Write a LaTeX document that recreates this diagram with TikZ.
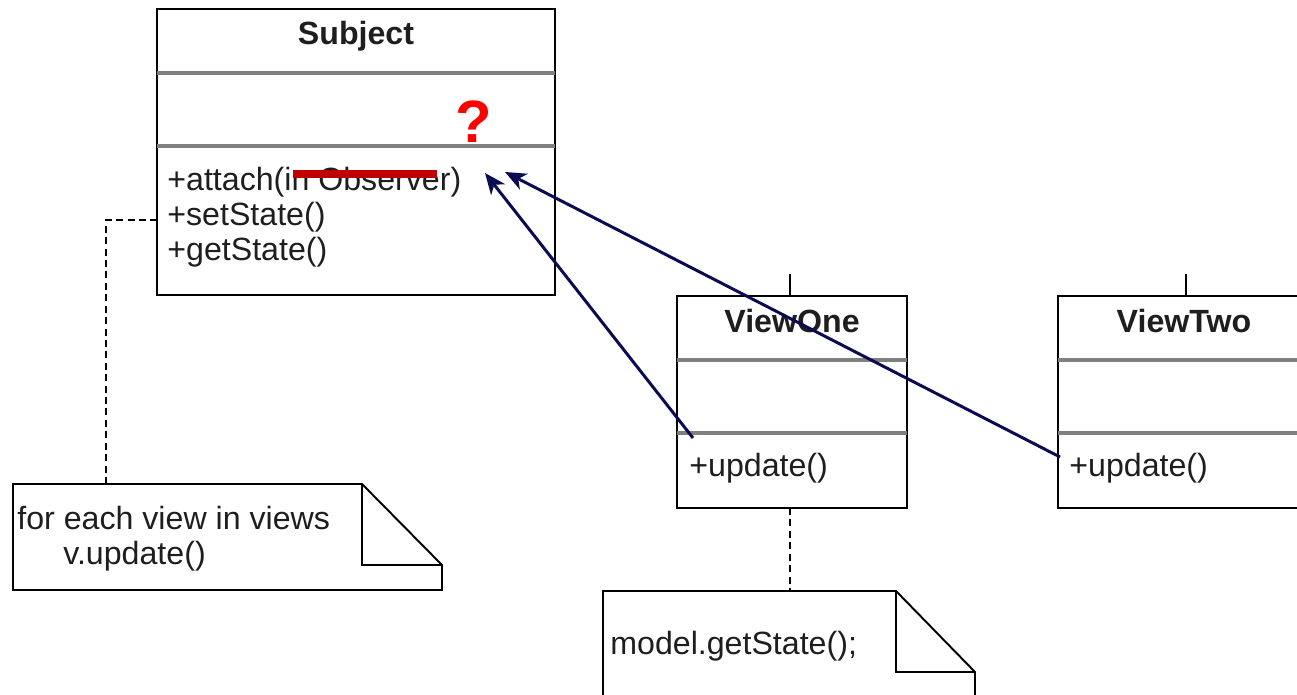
\documentclass[tikz,border=0pt]{standalone}
\usepackage{fontspec}
\setmainfont{Liberation Sans}
\usetikzlibrary{arrows.meta}
\definecolor{navy}{HTML}{0B0B52}
\definecolor{strikered}{HTML}{C00000}
\definecolor{qred}{HTML}{FF0000}
\definecolor{ink}{HTML}{1E1E1E}
\begin{document}
\begin{tikzpicture}[x=0.02cm,y=-0.02cm,
  font=\fontsize{18.3}{22}\selectfont, text=ink,
  umlbox/.style={draw=black,line width=1.1pt,inner sep=0pt,outer sep=0pt,rectangle},
  divider/.style={black!50,line width=2pt},
  txt/.style={inner sep=0pt,anchor=base west},
  ttl/.style={inner sep=0pt,anchor=base,font=\fontsize{18.3}{22}\selectfont\bfseries},
  link/.style={black,line width=1pt,dash pattern=on 4pt off 2.5pt},
  tick/.style={black,line width=1.1pt},
  call/.style={navy,line width=1.7pt,-{Stealth[length=12pt,width=10pt,inset=3.5pt]}},
  noteline/.style={black,line width=1.1pt},
  foldline/.style={black,line width=0.8pt}]

\useasboundingbox (0,0) rectangle (1297,695);
\clip (0,0) rectangle (1297,695);

% ---------- Subject ----------
\node[umlbox,minimum width=7.96cm,minimum height=5.72cm] (subject) at (356,152) {};
\draw[divider] (157,73) -- (555,73);
\draw[divider] (157,146) -- (555,146);
\node[ttl] (subjectT) at (356,45) {Subject};
\node[txt] (attach) at (167,191) {+attach(in Observer)};
\node[txt] (setst) at (167,226) {+setState()};
\node[txt] (getst) at (167,261) {+getState()};
\draw[strikered,line width=4.5pt] (293,174) -- (437,174);
\node[inner sep=0pt,anchor=base,text=qred,font=\fontsize{34}{36}\selectfont\bfseries] (qmark) at (474,143) {?};

% ---------- ViewOne ----------
\node[umlbox,minimum width=4.6cm,minimum height=4.24cm] (viewone) at (792,402) {};
\draw[divider] (677,360) -- (907,360);
\draw[divider] (677,433) -- (907,433);
\node[ttl] (viewoneT) at (792,333) {ViewOne};
\node[txt] (upd1) at (689,476) {+update()};
\coordinate (v1top) at (790,274);
\draw[tick] (v1top) -- (viewone.north -| v1top);

% ---------- ViewTwo ----------
\node[umlbox,minimum width=5.04cm,minimum height=4.24cm] (viewtwo) at (1184,402) {};
\draw[divider] (1058,360) -- (1310,360);
\draw[divider] (1058,433) -- (1310,433);
\node[ttl] (viewtwoT) at (1184,333) {ViewTwo};
\node[txt] (upd2) at (1069,476) {+update()};
\coordinate (v2top) at (1186,274);
\draw[tick] (v2top) -- (viewtwo.north -| v2top);

% ---------- Note 1 ----------
\node[inner sep=0pt,outer sep=0pt,minimum width=8.58cm,minimum height=2.12cm] (note1) at (227.5,537) {};
\draw[noteline] (13,484) -- (362,484) -- (442,565) -- (442,590) -- (13,590) -- cycle;
\draw[foldline] (362,484) -- (362,565) -- (442,565);
\node[txt] (n1a) at (17,529) {for each view in views};
\node[txt] (n1b) at (63,564) {v.update()};
\coordinate (n1top) at (106,484);
\coordinate (s220) at (157,220);
\draw[link] (n1top) |- (s220);

% ---------- Note 2 ----------
\node[inner sep=0pt,outer sep=0pt,minimum width=7.44cm,minimum height=2.4cm] (note2) at (789,711) {};
\draw[noteline] (603,720) -- (603,591) -- (896,591) -- (975,672) -- (975,720);
\draw[foldline] (896,591) -- (896,672) -- (975,672);
\node[txt] (n2a) at (610,654) {model.getState();};
\coordinate (n2top) at (790,591);
\draw[link] (viewone.south -| n2top) -- (n2top);

% ---------- calls ----------
\coordinate (tip1) at (485,173);
\coordinate (tip2) at (505,172);
\coordinate (src1) at (693,438);
\coordinate (src2) at (1060,457);
\draw[call] (src1) -- (tip1);
\draw[call] (src2) -- (tip2);
\end{tikzpicture}
\end{document}
